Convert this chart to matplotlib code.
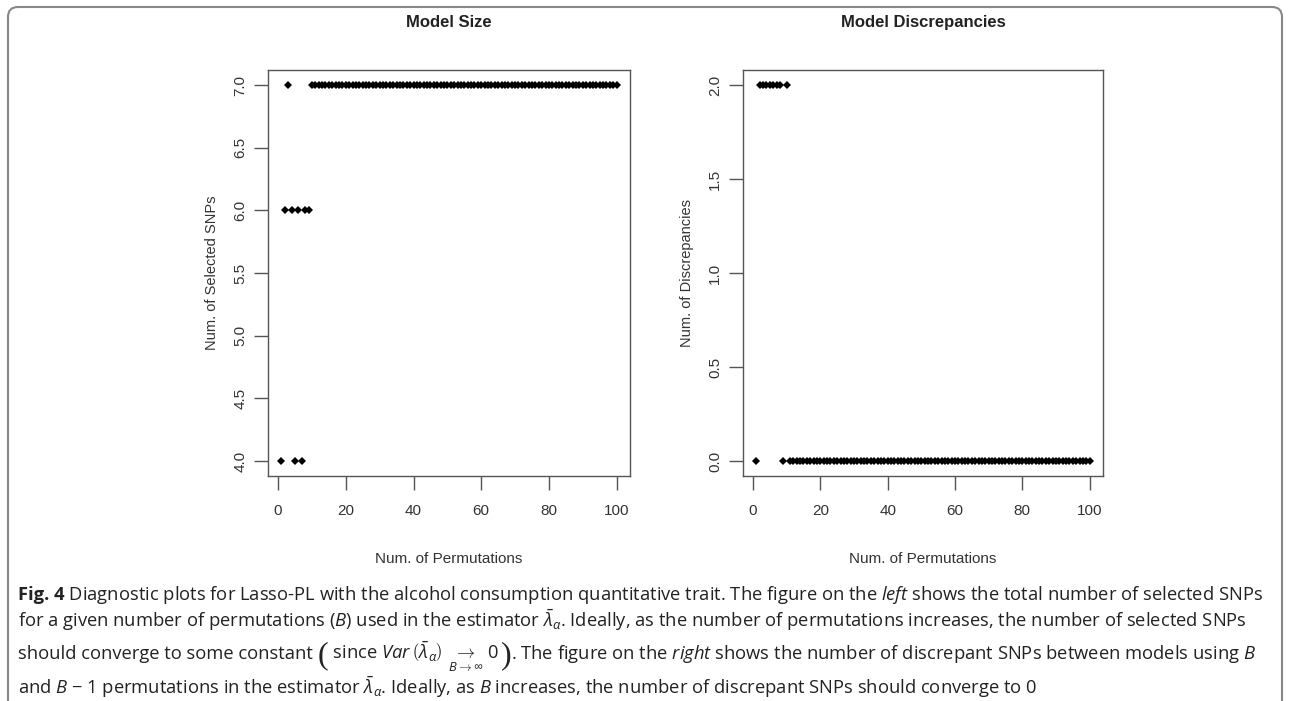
import matplotlib
matplotlib.use("Agg")
from matplotlib import pyplot as plt
from matplotlib.patches import FancyBboxPatch
from matplotlib.transforms import IdentityTransform

# data
perms = list(range(1, 101))
model_size = [4, 6, 7, 6, 4, 6, 4, 6, 6] + [7] * 91
discrepancies = [0, 2, 2, 2, 2, 2, 2, 2, 0, 2] + [0] * 90

x_ticks = [0, 20, 40, 60, 80, 100]
size_ticks = [4.0, 4.5, 5.0, 5.5, 6.0, 6.5, 7.0]
disc_ticks = [0.0, 0.5, 1.0, 1.5, 2.0]

plt.rcParams['mathtext.fontset'] = 'custom'
plt.rcParams['mathtext.rm'] = 'Open Sans'
plt.rcParams['mathtext.it'] = 'Open Sans:italic'
plt.rcParams['mathtext.bf'] = 'Open Sans:bold'

rfont = ['Liberation Sans Narrow', 'Liberation Sans', 'DejaVu Sans']
W, H = 1290, 701

fig = plt.figure(figsize=(12.9, 7.01), dpi=100)


def r_style(ax, x, y, yticks, title, ylabel):
    ax.plot(x, y, 'D', color='black', markersize=4.2, markeredgewidth=0)
    ax.set_xlim(-2.96, 103.96)
    lo, hi = min(yticks), max(yticks)
    pad = (hi - lo) * 0.04
    ax.set_ylim(lo - pad, hi + pad)
    ax.set_xticks(x_ticks)
    ax.set_xticklabels([str(t) for t in x_ticks], family=rfont, fontsize=11, color='#333333')
    ax.set_yticks(yticks)
    ax.set_yticklabels(['%.1f' % t for t in yticks], family=rfont, fontsize=11,
                       rotation=90, va='center', color='#333333')
    ax.tick_params(direction='out', length=10, width=1, color='#555555', pad=5)
    ax.tick_params(axis='x', pad=10)
    for s in ax.spines.values():
        s.set_color('#555555')
        s.set_linewidth(1)
    ax.set_title(title, fontsize=12, fontweight='bold', family='Liberation Sans',
                 color='#222222', pad=31)
    ax.set_xlabel('Num. of Permutations', family=rfont, fontsize=11, labelpad=25, color='#333333')
    ax.set_ylabel(ylabel, family='Liberation Sans', fontsize=10.5, labelpad=10, color='#333333')


ax1 = fig.add_axes([0.2078, 0.321, 0.2806, 0.579])
r_style(ax1, perms, model_size, size_ticks, 'Model Size', 'Num. of Selected SNPs')

ax2 = fig.add_axes([0.576, 0.321, 0.279, 0.579])
r_style(ax2, perms, discrepancies, disc_ticks, 'Model Discrepancies', 'Num. of Discrepancies')

# caption, laid out piece by piece along each baseline
cap_size = 13.2
cap_kw = dict(family='Open Sans', fontsize=cap_size, color='#222222', va='baseline', ha='left')
bold_kw = dict(cap_kw, fontweight='bold')
paren_kw = dict(family='Liberation Serif', fontsize=23, color='#222222', va='baseline', ha='left')

cap = [
    [("Fig. 4", bold_kw, 0),
     (r" Diagnostic plots for Lasso-PL with the alcohol consumption quantitative trait. "
      r"The figure on the $\mathit{left}$ shows the total number of selected SNPs", cap_kw, 0)],
    [(r"for a given number of permutations ($\mathit{B}$) used in the estimator $\bar{\lambda}_{\alpha}$. "
      r"Ideally, as the number of permutations increases, the number of selected SNPs", cap_kw, 0)],
    [(r"should converge to some constant ", cap_kw, 0),
     ("(", paren_kw, 4),
     (r" since $\mathit{Var}\,\left(\bar{\lambda}_{\alpha}\right)\ \underset{B\rightarrow\infty}{\rightarrow}\ 0$ ",
      cap_kw, 0),
     (")", paren_kw, 4),
     (r". The figure on the $\mathit{right}$ shows the number of discrepant SNPs between models using $\mathit{B}$",
      cap_kw, 0)],
    [(r"and $\mathit{B}$ − 1 permutations in the estimator $\bar{\lambda}_{\alpha}$. "
      r"Ideally, as $\mathit{B}$ increases, the number of discrepant SNPs should converge to 0", cap_kw, 0)],
]
cap_base = [600, 627, 659, 694]

renderer = fig.canvas.get_renderer()
for pieces, yb in zip(cap, cap_base):
    x = 18
    for txt, kw, dy in pieces:
        t = fig.text(x / W, 1 - (yb + dy) / H, txt, **kw)
        x = t.get_window_extent(renderer).x1

border = FancyBboxPatch((8, -30), 1274, 694 + 30, boxstyle="round,pad=0,rounding_size=10",
                        transform=IdentityTransform(), fill=False, edgecolor='#888888',
                        linewidth=1.5)
fig.patches.append(border)

fig.savefig('out.png', dpi=100)
